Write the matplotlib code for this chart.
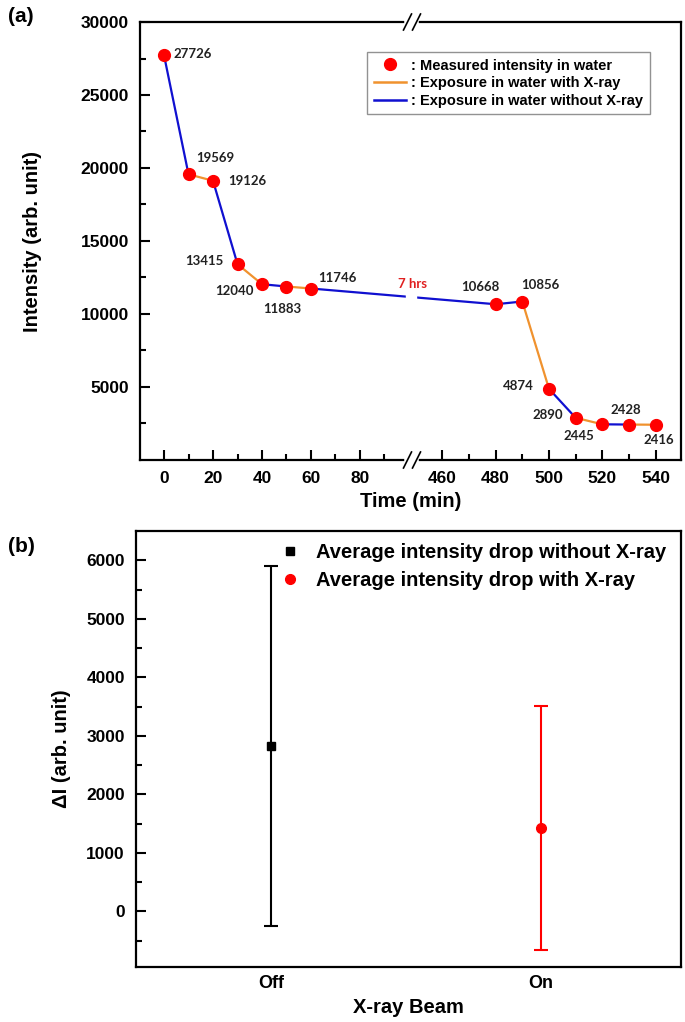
import numpy as np
import matplotlib
matplotlib.use("Agg")
import matplotlib.pyplot as plt
from matplotlib.lines import Line2D
from matplotlib import font_manager

# panel (a): intensity vs time
times = [0, 10, 20, 30, 40, 50, 60, 480, 490, 500, 510, 520, 530, 540]
intensity = [27726, 19569, 19126, 13415, 12040, 11883, 11746,
             10668, 10856, 4874, 2890, 2445, 2428, 2416]
# segment i goes from point i to i+1; True = exposed to X-ray
xray_on = [False, True, False, True, False, True, False,
           False, True, False, True, False, True]

# panel (b): average drop
beam = ["Off", "On"]
drop_mean = [2824, 1425]
drop_err = [3075, 2084]

ORANGE = "#F0922E"
BLUE = "#1010D0"
RED = "#FF0000"

names = {f.name for f in font_manager.fontManager.ttflist}
NARROW = "Liberation Sans Narrow" if "Liberation Sans Narrow" in names else "Liberation Sans"
plt.rcParams["font.family"] = ["Liberation Sans", "DejaVu Sans"]
plt.rcParams["font.weight"] = "bold"
plt.rcParams["axes.labelweight"] = "bold"

# broken time axis: pixel-like coordinate u
L0, A, B = 164.0, 2.45, 2.667
UB, XB1, XB2, EPS = 413.0, 101.6, 449.0, 0.01


def fwd(x):
    x = np.asarray(x, dtype=float)
    return np.where(x <= XB1, L0 + A * x,
                    np.where(x >= XB2, UB + EPS + B * (x - XB2),
                             UB + EPS * (x - XB1) / (XB2 - XB1)))


def inv(u):
    u = np.asarray(u, dtype=float)
    return np.where(u <= UB, (u - L0) / A,
                    np.where(u >= UB + EPS, XB2 + (u - UB - EPS) / B,
                             XB1 + (u - UB) / EPS * (XB2 - XB1)))


fig = plt.figure(figsize=(6.85, 10.22), dpi=100)
W, H = 685.0, 1022.0

def px_axes(l, t, r, b):
    return fig.add_axes([l / W, 1 - b / H, (r - l) / W, (b - t) / H])

ax = px_axes(140, 22, 681, 460)
ax.set_xscale("function", functions=(fwd, inv))
ax.set_xlim(-9.8, 549.5)
ax.set_ylim(0, 30000)

for i in range(len(times) - 1):
    ax.plot(times[i:i + 2], intensity[i:i + 2],
            color=ORANGE if xray_on[i] else BLUE, lw=1.6, zorder=2)
ax.plot(times, intensity, "o", color=RED, ms=8.5, zorder=4)

# small gap in the long segment across the break
ax.add_patch(plt.Rectangle(((406 - 140) / 541, 0.35), 10 / 541, 0.04,
                           transform=ax.transAxes, color="white", zorder=3))
ax.text((413 - 140) / 541, (460 - 284) / 438, "7 hrs", transform=ax.transAxes,
        color="#E02020", fontsize=9.5, fontfamily="Lato", fontweight="bold",
        ha="center", va="center", zorder=5)

offsets = [(9, 1, "left"), (27, 16, "center"), (15, 0, "left"), (-14, 3, "right"),
           (-8, -7, "right"), (-4, -22, "center"), (26, 11, "center"),
           (-15, 17, "center"), (18, 17, "center"), (-15, 3, "right"),
           (-13, 3, "right"), (-23, -12, "center"), (-3, 15, "center"),
           (3, -15, "center")]
for t, v, (dx, dy, ha) in zip(times, intensity, offsets):
    ax.annotate(str(v), (t, v), xytext=(dx, dy), textcoords="offset pixels",
                ha=ha, va="center", fontsize=9.5, fontfamily="Lato",
                fontweight="bold", color="#222222", zorder=5)

ax.set_xticks([0, 20, 40, 60, 80, 460, 480, 500, 520, 540])
ax.set_xticks([10, 30, 50, 70, 90, 470, 490, 510, 530], minor=True)
ax.set_yticks([5000, 10000, 15000, 20000, 25000, 30000])
ax.set_yticks(np.arange(2500, 30000, 5000), minor=True)
ax.set_xlabel("Time (min)", fontsize=14.5, labelpad=4)
ax.set_ylabel("Intensity (arb. unit)", fontsize=14.5)
ax.yaxis.set_label_coords((42 - 140) / 541, 0.5)

# axis break marks
bx = (UB - 140) / 541
for yb in (0, 1):
    ax.plot([bx - 6 / 541, bx + 3 / 541], [yb, yb], color="white", lw=4,
            transform=ax.transAxes, clip_on=False, zorder=6)
    for dxp in (-5.5, 3.5):
        ax.plot([bx + (dxp - 4) / 541, bx + (dxp + 4) / 541],
                [yb - 8 / 438, yb + 8 / 438], color="black", lw=1.2,
                transform=ax.transAxes, clip_on=False, zorder=7)

handles = [Line2D([], [], marker="o", ls="none", color=RED, ms=8.5),
           Line2D([], [], color=ORANGE, lw=1.8),
           Line2D([], [], color=BLUE, lw=1.8)]
leg = ax.legend(handles, [": Measured intensity in water",
                          ": Exposure in water with X-ray",
                          ": Exposure in water without X-ray"],
                loc="upper left", bbox_to_anchor=((367 - 140) / 541, (460 - 52) / 438),
                prop={"family": NARROW, "weight": "bold", "size": 10.5},
                frameon=True, fancybox=False, edgecolor="#777777",
                handlelength=2.2, handletextpad=0.4, labelspacing=0.25,
                borderpad=0.45, borderaxespad=0)
leg.get_frame().set_linewidth(1.0)

# panel (b)
bx2 = px_axes(136, 531, 681, 967)
bx2.errorbar([1], drop_mean[:1], yerr=drop_err[:1], fmt="s", color="black",
             ms=6, elinewidth=1.5, capsize=5, capthick=1.5)
bx2.errorbar([2], drop_mean[1:], yerr=drop_err[1:], fmt="o", color=RED,
             ms=7, elinewidth=1.5, capsize=5, capthick=1.5)
bx2.set_xlim(0.5, 2.52)
bx2.set_ylim(-950, 6500)
bx2.set_xticks([1, 2], beam)
bx2.set_yticks(np.arange(0, 6001, 1000))
bx2.set_yticks(np.arange(-500, 6500, 1000), minor=True)
bx2.set_xlabel("X-ray Beam", fontsize=14.5, labelpad=4)
bx2.set_ylabel("\u0394I (arb. unit)", fontsize=14.5)
bx2.yaxis.set_label_coords((71 - 136) / 545, 0.5)
h2 = [Line2D([], [], marker="s", ls="none", color="black", ms=6),
      Line2D([], [], marker="o", ls="none", color=RED, ms=7)]
bx2.legend(h2, ["Average intensity drop without X-ray",
                "Average intensity drop with X-ray"],
           loc="upper right", frameon=False,
           prop={"family": NARROW, "weight": "bold", "size": 14.5},
           handletextpad=0.3, labelspacing=0.45, borderaxespad=0.2,
           bbox_to_anchor=(0.995, 1.0))

for a in (ax, bx2):
    for s in a.spines.values():
        s.set_linewidth(1.6)
    a.tick_params(which="both", direction="in", width=1.5, labelsize=12.5,
                  top=False, right=False)
    a.tick_params(which="major", length=7)
    a.tick_params(which="minor", length=4)
    a.tick_params(axis="y", pad=8)
ax.tick_params(axis="x", pad=8)
bx2.tick_params(axis="x", which="both", length=0, labelsize=13, pad=6)

fig.text(21 / W, 1 - 16 / H, "(a)", fontsize=15, ha="center", va="center")
fig.text(21 / W, 1 - 546 / H, "(b)", fontsize=15, ha="center", va="center")

fig.savefig("out.png", dpi=100)
